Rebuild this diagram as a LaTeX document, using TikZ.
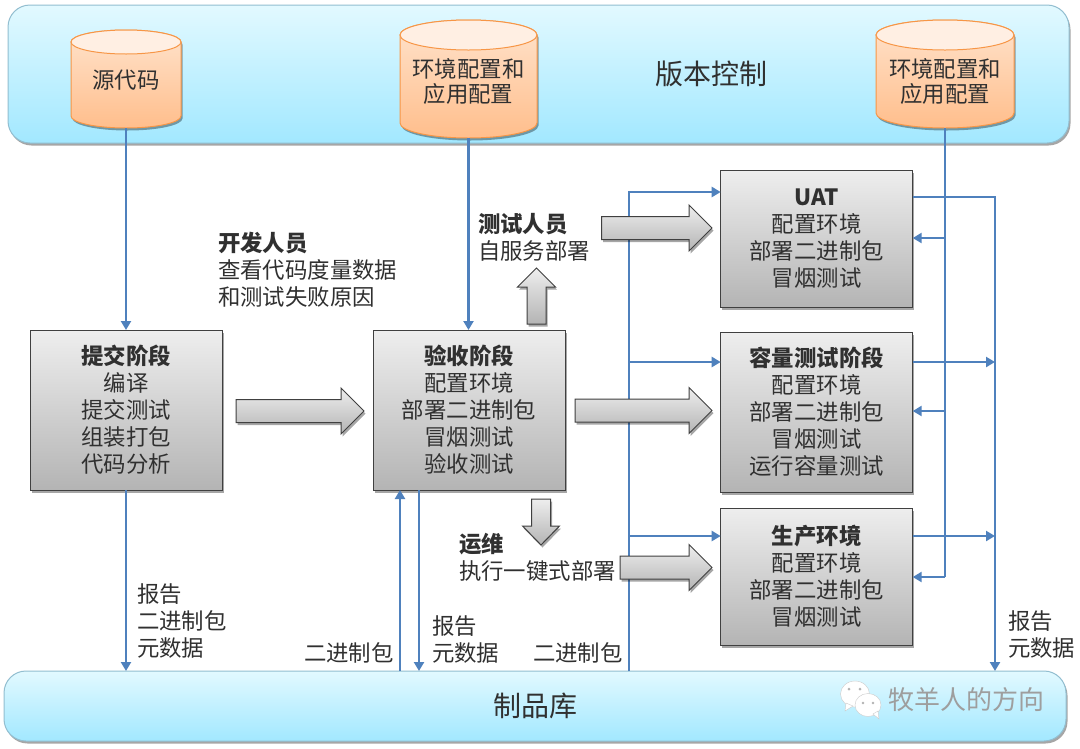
\documentclass[tikz,border=0pt]{standalone}
\usepackage{fontspec}
\setmainfont{Noto Sans CJK SC}
\usetikzlibrary{arrows.meta,shadows,calc}
\definecolor{flowblue}{HTML}{4F81BD}
\definecolor{txt}{HTML}{303030}
\tikzset{
  softshadow/.style={drop shadow={shadow xshift=1.5pt,shadow yshift=-2.5pt,opacity=.35,fill=black}},
  band/.style={draw=cyan!45!gray!70,line width=1pt,rounded corners=22pt,top color=bandtop,bottom color=bandbot,softshadow,outer sep=0pt,inner sep=0pt},
  stagebox/.style={draw=black!75,line width=1pt,top color=boxtop,bottom color=boxbot,softshadow,outer sep=0pt,inner sep=0pt,align=center,text=txt,font=\fontsize{22.4}{27}\selectfont},
  blockarrow/.style={draw=black!75,line width=1pt,top color=boxtop,bottom color=boxbot,softshadow,line join=miter},
  flow/.style={draw=flowblue,line width=2.8pt},
  flowa/.style={flow,-{Triangle[length=9pt,width=10pt]}},
  cylbody/.style={draw=cylline,line width=1pt,top color=cyltop,bottom color=cylbot,softshadow},
  cyllid/.style={draw=cylline,line width=1pt,fill=cyllight},
  cyltext/.style={inner sep=0pt,outer sep=0pt,align=center,text=txt,font=\fontsize{22.4}{25}\selectfont},
  lbl/.style={inner sep=0pt,outer sep=0pt,anchor=west,align=left,text=txt,font=\fontsize{22.4}{27}\selectfont},
  bandlbl/.style={inner sep=0pt,text=txt,font=\fontsize{28}{32}\selectfont},
}
\definecolor{bandtop}{HTML}{E2F9FF}
\definecolor{bandbot}{HTML}{A2E8FF}
\definecolor{boxtop}{HTML}{EEEEEE}
\definecolor{boxbot}{HTML}{B4B4B4}
\definecolor{cyltop}{HTML}{FFE3CC}
\definecolor{cylbot}{HTML}{FFBE8C}
\definecolor{cylline}{HTML}{F79646}
\definecolor{cyllight}{HTML}{FFEFE3}
% name, x left, x right, y top, y bottom, lid half height, text offset, text
\newcommand{\cylshape}[8]{%
  \pgfmathsetmacro{\cxm}{(#2+#3)/2}%
  \pgfmathsetmacro{\crx}{(#3-#2)/2}%
  \pgfmathsetmacro{\cyt}{#4+#6}%
  \pgfmathsetmacro{\cyb}{#5-#6}%
  \pgfmathsetmacro{\cym}{(#4+#5)/2+#7}%
  \path[cylbody] (#2,\cyt) -- (#2,\cyb) arc[start angle=180,end angle=360,x radius=\crx pt,y radius=#6 pt] -- (#3,\cyt) arc[start angle=0,end angle=180,x radius=\crx pt,y radius=#6 pt] -- cycle;
  \path[cyllid] (\cxm,\cyt) ellipse[x radius=\crx pt,y radius=#6 pt];
  \node[cyltext,minimum width=\crx pt*2,minimum height=#5pt-#4pt-2pt*#7] (#1) at (\cxm,\cym) {#8};
}
% right arrow: x0, x head, x tip, y mid, half shaft, half head
\newcommand{\rarrow}[6]{%
  \path[blockarrow] (#1,#4-#5) -- (#2,#4-#5) -- (#2,#4-#6) -- (#3,#4) -- (#2,#4+#6) -- (#2,#4+#5) -- (#1,#4+#5) -- cycle;
}
% vertical arrow: y0, y head, y tip, x mid, half shaft, half head
\newcommand{\varrow}[6]{%
  \path[blockarrow] (#4-#5,#1) -- (#4-#5,#2) -- (#4-#6,#2) -- (#4,#3) -- (#4+#6,#2) -- (#4+#5,#2) -- (#4+#5,#1) -- cycle;
}
\begin{document}
\begin{tikzpicture}[x=1pt,y=-1pt]
\useasboundingbox (0,0) rectangle (1080,748);
\fill[white] (0,0) rectangle (1080,748);

% bands
\node[band,minimum width=1061pt,minimum height=138pt] (vcs) at (538.5,74) {};
\node[band,minimum width=1062pt,minimum height=70pt] (repo) at (535,706) {};
\node[bandlbl] (vcslbl) at (711,74) {版本控制};
\node[bandlbl] (repolbl) at (535,706) {制品库};

% cylinders
\cylshape{src}{71}{181}{30}{128}{12}{1}{源代码}
\cylshape{cfgA}{400}{537}{20}{138}{15}{2}{环境配置和\\应用配置}
\cylshape{cfgB}{876}{1014}{20}{128}{15}{7}{环境配置和\\应用配置}

% stage boxes
\node[stagebox,minimum width=192pt,minimum height=160pt] (commit) at (126,410) {\textbf{提交阶段}\\编译\\提交测试\\组装打包\\代码分析};
\node[stagebox,minimum width=192pt,minimum height=160pt] (accept) at (469,410) {\textbf{验收阶段}\\配置环境\\部署二进制包\\冒烟测试\\验收测试};
\node[stagebox,minimum width=192pt,minimum height=137pt] (uat) at (816.7,238.5) {\textbf{UAT}\\配置环境\\部署二进制包\\冒烟测试};
\node[stagebox,minimum width=192pt,minimum height=160pt] (cap) at (816.7,412) {\textbf{容量测试阶段}\\配置环境\\部署二进制包\\冒烟测试\\运行容量测试};
\node[stagebox,minimum width=192pt,minimum height=137pt] (prod) at (816.7,576.5) {\textbf{生产环境}\\配置环境\\部署二进制包\\冒烟测试};

% helper coordinates
\coordinate (busL) at (629,0);
\coordinate (busM) at (945,0);
\coordinate (busR) at (995,0);
\coordinate (upIn) at (400,0);
\coordinate (downOut) at (419,0);
\coordinate (uatIn) at (720.7,192);
\coordinate (capIn) at (720.7,362);
\coordinate (prodIn) at (720.7,536);
\coordinate (uatOut) at (912.7,197);
\coordinate (capOut) at (912.7,362);
\coordinate (prodOut) at (912.7,536);
\coordinate (uatBack) at (912.7,238);
\coordinate (capBack) at (912.7,411);
\coordinate (prodBack) at (912.7,577);

% connectors
\draw[flowa] (src.south) -- (commit.north);
\draw[flowa] (commit.south) -- (commit.south |- repo.north);
\draw[flowa] (cfgA.south) -- (cfgA.south |- accept.north);
\draw[flowa] (repo.north -| upIn) -- (accept.south -| upIn);
\draw[flowa] (accept.south -| downOut) -- (repo.north -| downOut);
\draw[flowa] (repo.north -| busL) |- (uatIn);
\draw[flowa] (capIn -| busL) -- (capIn);
\draw[flowa] (prodIn -| busL) -- (prodIn);
\draw[flow] (cfgB.south -| busM) -- (prodBack -| busM);
\draw[flowa] (uatBack -| busM) -- (uatBack);
\draw[flowa] (capBack -| busM) -- (capBack);
\draw[flowa] (prodBack -| busM) -- (prodBack);
\draw[flowa] (uatOut) -| (repo.north -| busR);
\draw[flowa] (capOut) -- (capOut -| busR);
\draw[flowa] (prodOut) -- (prodOut -| busR);

% block arrows
\rarrow{236}{341}{364}{411}{11.5}{23}
\rarrow{575}{689}{712}{410.5}{11.5}{23}
\rarrow{601.5}{689}{712}{228}{11.5}{23}
\rarrow{620}{689}{712}{567.5}{11.5}{23}
\varrow{499}{526}{545}{541}{9.5}{18.5}
\varrow{324}{287}{268}{536.5}{9.5}{19}

% free labels
\node[lbl] (devlbl) at (218,269.5) {\textbf{开发人员}\\查看代码度量数据\\和测试失败原因};
\node[lbl] (testlbl) at (478,237) {\textbf{测试人员}\\自服务部署};
\node[lbl] (opslbl) at (459,557) {\textbf{运维}\\执行一键式部署};
\node[lbl] (rep1) at (137,621) {报告\\二进制包\\元数据};
\node[lbl] (bin1) at (304,653) {二进制包};
\node[lbl] (rep2) at (432,640) {报告\\元数据};
\node[lbl] (bin2) at (533,653) {二进制包};
\node[lbl] (rep3) at (1008,634.5) {报告\\元数据};

% watermark
\fill[white,draw=black!20,line width=.4pt] (855,694) ellipse[x radius=14.5pt,y radius=13pt];
\fill[white,draw=black!20,line width=.4pt] (846,703) -- (845,711) -- (853,706) -- cycle;
\fill[white,draw=black!20,line width=.4pt] (868,705) ellipse[x radius=13pt,y radius=11.5pt];
\fill[white,draw=black!20,line width=.4pt] (873,714) -- (879,719) -- (878,711) -- cycle;
\fill[black!30] (849,689) circle[radius=1.5pt] (860,689) circle[radius=1.5pt] (863,703) circle[radius=1.3pt] (873,703) circle[radius=1.3pt];
\node[inner sep=0pt,anchor=west,text=black!38,font=\fontsize{26}{30}\selectfont] (wm) at (888,700) {牧羊人的方向};
\end{tikzpicture}
\end{document}
